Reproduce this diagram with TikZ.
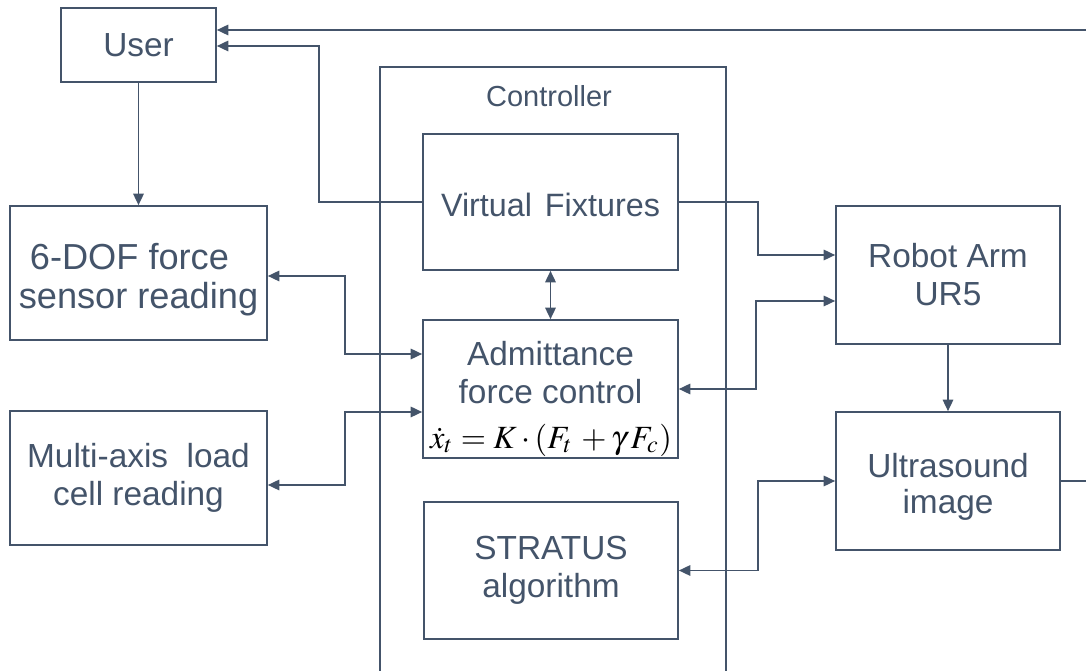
\documentclass[tikz,border=0pt]{standalone}
\usepackage{mathptmx}
\usepackage{fontspec}
\setmainfont{Liberation Sans}
\usepackage{graphicx}
\usetikzlibrary{arrows.meta}
\definecolor{ink}{HTML}{44546A}
\newcommand{\lowered}[2]{\raisebox{-#1}[\height][\depth]{#2}}
\tikzset{
  box/.style={draw=ink, line width=0.95pt, text=ink, align=center, inner sep=0pt,
    font=\fontsize{19}{21.6}\selectfont},
  conn/.style={draw=ink, line width=0.95pt},
  tip/.tip={Triangle[length=0.23cm,width=0.21cm]},
  arr/.style={conn, -tip},
  arrboth/.style={conn, tip-tip}
}
\begin{document}
\begin{tikzpicture}[x=0.02cm,y=-0.02cm]
\useasboundingbox (0,0) rectangle (1086,671);
\clip (0,0) rectangle (1086,671);
% controller frame
\node[box, minimum width=346*0.02cm, minimum height=653*0.02cm] (ctrl) at (553,393.5) {};
\node[text=ink, font=\fontsize{16.5}{19}\selectfont] (ctrllabel) at (549,96) {Controller};
% boxes
\node[box, minimum width=155*0.02cm, minimum height=74*0.02cm] (user) at (138.5,45) {User};
\node[box, minimum width=255*0.02cm, minimum height=136*0.02cm, font=\fontsize{18.4}{21}\selectfont] (vf) at (550.5,202) {\lowered{0.06cm}{Virtual\hspace{0.4em}Fixtures}};
\node[box, minimum width=255*0.02cm, minimum height=138*0.02cm] (adm) at (550.5,389) {};
\node[text=ink, align=center, inner sep=0pt, font=\fontsize{19}{21.6}\selectfont] (admtext) at (550.5,373) {Admittance\\force control};
\node[inner sep=0pt] (admeq) at (551,440) {\resizebox{4.84cm}{!}{$\dot{x}_{t} = K\cdot(F_{t}\,+\gamma\,F_{c})$}};
\node[box, minimum width=254*0.02cm, minimum height=137*0.02cm] (strat) at (551,570.5) {STRATUS\\algorithm};
\node[box, minimum width=257*0.02cm, minimum height=134*0.02cm, font=\fontsize{20.6}{23}\selectfont] (dof) at (138.5,273) {\lowered{0.16cm}{\begin{tabular}{@{}c@{}}6-DOF force\kern0.5em\\[-1pt]sensor reading\end{tabular}}};
\node[box, minimum width=257*0.02cm, minimum height=134*0.02cm] (multi) at (138.5,478) {Multi-axis\ \ load\\cell reading};
\node[box, minimum width=224*0.02cm, minimum height=138*0.02cm] (robot) at (948,275) {Robot Arm\\UR5};
\node[box, minimum width=224*0.02cm, minimum height=138*0.02cm] (ultra) at (948,481) {\lowered{0.14cm}{\begin{tabular}{@{}c@{}}Ultrasound\\[-1.5pt]image\end{tabular}}};
% connectors
\draw[arr] (ultra.east) -- ++(60,0) |- ([yshift=0.3cm]user.east);
\draw[arr] (vf.west) -- ++(-103,0) |- ([yshift=-0.02cm]user.east);
\draw[arr] (user.south) -- (dof.north);
\draw[arr] (vf.east) -- ++(79,0) |- ([yshift=0.4cm]robot.west);
\draw[arrboth] ([yshift=-0.52cm]robot.west) -- ++(-79,0) |- (adm.east);
\draw[arrboth] (vf.south) -- (adm.north);
\draw[arrboth] ([yshift=-0.06cm]dof.east) -- ++(77,0) |- ([yshift=0.7cm]adm.west);
\draw[arrboth] ([yshift=-0.14cm]multi.east) -- ++(77,0) |- ([yshift=-0.46cm]adm.west);
\draw[arr] (robot.south) -- (ultra.north);
\draw[arrboth] (strat.east) -- ++(79,0) |- (ultra.west);
\end{tikzpicture}
\end{document}
